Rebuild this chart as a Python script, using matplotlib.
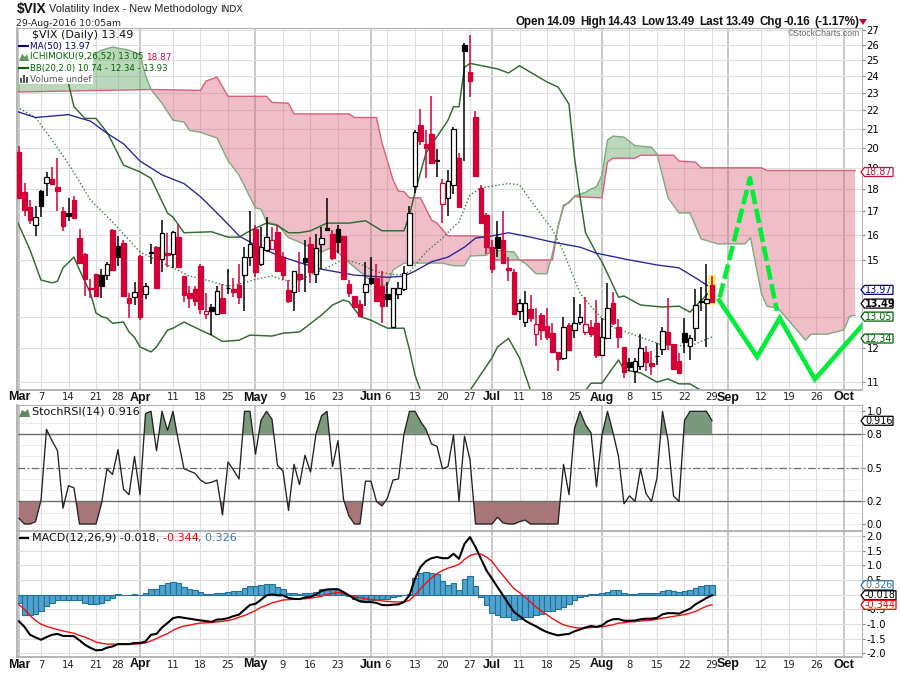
import numpy as np
import matplotlib
matplotlib.use("Agg")
import matplotlib.pyplot as plt
from matplotlib.patches import Polygon, Rectangle

plt.rcParams['text.parse_math'] = False
plt.rcParams['font.family'] = ['DejaVu Sans']

# ---------- price data (bar 0 = 1 Mar 2016, bar 126 = 29 Aug 2016) ----------
opens = [19.8,17.85,17.2,16.4,17.9,18.3,18.47,18.1,17.02,16.93,
17.5,15.87,15.25,14.0,14.48,14.45,14.45,16.22,15.55,15.7,
13.63,13.66,15.17,13.77,15.3,15.52,15.05,15.28,15.25,15.92,
14.42,13.8,13.95,14.8,13.08,13.32,13.08,13.63,13.97,13.95,
14.09,14.45,15.13,16.25,14.87,15.41,15.45,16.14,15.13,13.91,
13.84,14.48,15.1,15.65,14.48,15.65,16.3,16.04,16.27,15.97,
14.13,13.7,13.42,13.84,14.35,14.35,14.05,13.77,12.65,13.77,
13.95,14.83,18.15,21.2,20.2,20.72,19.33,17.33,17.6,18.2,
19.47,26.0,24.25,21.65,18.05,16.85,15.52,15.92,15.81,14.72,
14.57,13.19,12.82,13.25,12.43,13.05,12.69,12.46,11.88,11.7,
12.72,12.56,12.82,12.5,12.65,12.78,11.79,12.3,13.45,12.65,
12.03,11.58,11.32,11.47,11.88,11.55,11.75,11.97,12.5,12.12,
11.61,12.46,12.06,12.62,13.5,13.47,14.09]
closes = [17.6,17.05,16.65,16.75,17.25,18.57,18.25,17.9,16.38,16.8,
16.72,14.9,14.32,13.95,13.7,14.05,14.87,14.64,15.13,13.7,
13.45,13.84,12.98,14.05,15.33,13.98,16.1,15.2,16.15,14.75,
13.73,13.63,13.52,13.25,13.18,13.19,13.88,13.12,14.0,13.84,
13.66,15.13,15.65,14.57,15.52,15.92,15.81,14.6,14.45,13.52,
14.6,14.3,14.95,14.57,15.49,15.88,16.22,15.1,15.72,14.3,
13.8,13.32,13.02,14.13,14.15,13.52,13.35,13.6,13.98,14.0,
14.52,16.93,20.8,20.35,20.0,19.23,19.36,18.3,18.38,21.0,
17.2,25.6,23.7,18.6,16.5,15.52,14.67,15.49,14.92,14.64,
13.08,13.45,13.45,12.95,12.75,12.56,12.33,11.88,11.67,12.65,
11.94,12.78,13.0,12.75,12.43,11.79,12.33,13.3,12.78,12.33,
11.29,11.44,11.61,12.0,11.58,11.47,11.77,12.53,12.12,11.38,
11.26,12.18,12.3,13.39,13.53,13.6,13.49]
highs = [20.1,18.3,17.5,17.25,17.95,18.8,19.05,19.5,17.2,17.6,
17.68,16.25,15.28,14.3,14.48,14.67,14.95,16.25,15.97,15.81,
13.8,14.2,15.2,14.17,15.65,15.55,16.65,16.1,16.18,16.45,
14.42,14.05,14.05,14.87,13.8,13.42,14.05,14.13,14.67,14.35,
14.87,15.52,17.02,16.43,16.35,16.77,16.35,16.43,15.33,14.27,
14.6,15.33,15.81,15.92,16.04,16.35,17.6,16.22,16.4,15.97,
14.27,13.7,13.56,14.95,15.13,14.87,14.6,14.2,14.0,14.2,
14.8,17.25,20.92,22.05,20.92,22.8,19.95,18.47,18.9,21.08,
19.73,26.13,26.65,21.95,18.2,16.95,15.81,16.58,17.0,15.13,
14.67,13.6,13.88,13.73,13.3,13.12,13.3,12.78,11.88,13.0,
12.78,13.66,13.42,13.66,12.88,13.56,12.95,14.17,13.84,12.92,
12.03,11.7,11.7,12.43,12.06,11.9,12.15,12.65,13.62,12.12,
11.85,12.95,12.4,13.95,14.02,14.87,14.43]
lows = [17.6,16.8,16.45,15.95,16.75,17.7,18.25,17.02,16.18,16.6,
16.72,14.9,13.7,13.63,13.7,13.63,14.27,14.6,14.8,13.7,
12.95,13.39,12.9,13.6,14.87,13.95,14.57,14.75,14.72,14.72,
13.5,13.3,13.35,13.08,12.91,12.4,13.05,13.08,13.77,13.66,
13.42,13.19,14.8,14.37,14.8,15.33,15.41,14.6,14.27,13.45,
13.18,13.84,13.84,14.17,14.17,14.67,16.22,15.02,15.28,14.27,
13.66,13.3,12.98,13.35,14.09,13.52,12.78,13.32,12.62,13.6,
13.88,14.8,17.8,20.15,18.5,19.23,18.57,16.5,16.8,17.75,
17.2,19.35,22.75,18.6,16.5,15.25,14.52,15.13,14.92,14.23,
13.08,12.9,12.65,12.82,12.06,12.24,12.24,11.88,11.32,11.64,
11.9,12.3,12.72,12.4,12.35,11.7,11.76,12.3,12.72,12.0,
11.11,11.32,10.97,11.35,11.32,11.2,11.5,11.79,11.94,11.38,
11.23,11.85,11.64,12.2,13.18,12.03,13.49]

ma50_idx = [-1,3,9,13,16,19,22,26,30,33,36,39,40,43,47,51,55,61,67,70,72,75,78,81,83,86,89,93,97,102,105,111,116,120,123,126]
ma50_val = [22.0,21.6,21.76,21.4,20.75,20.2,19.33,18.66,18.25,17.65,16.93,16.22,15.97,15.6,15.2,14.92,14.67,14.45,14.37,14.41,14.6,14.95,15.13,15.52,15.88,15.97,16.1,15.92,15.72,15.52,15.28,15.02,14.83,14.72,14.35,13.97]

bb_up_idx = [9,10,12,14,16,17,19,22,24,27,28,30,35,38,40,42,45,47,49,51,53,56,60,63,66,70,71,72,74,78,79,80,81,82,87,89,91,96,98,100,101,102,103,105,106,109,110,113,117,120,122,126]
bb_up_val = [23.55,22.2,21.55,21.55,20.8,20.25,19.13,18.8,18.5,16.93,16.75,16.1,16.14,15.92,15.92,16.18,16.5,16.4,16.1,16.1,16.18,16.5,16.5,16.6,16.18,16.18,16.85,17.85,19.73,21.45,22.2,22.2,24.55,24.8,24.45,24.2,24.65,23.65,23.35,22.35,19.5,17.65,16.1,15.28,14.95,13.66,13.7,13.39,13.32,13.35,13.15,13.93]
bb_lo_idx = [-1,2,4,6,7,8,10,11,13,14,15,16,17,19,20,21,22,24,25,27,28,30,33,35,37,40,42,46,48,51,55,57,59,60,62,64,67,70,71,72,73,76,80,82,86,87,89,91,93,96,100,103,104,106,109,110,113,116,118,120,122,124,126]
bb_lo_val = [16.93,15.41,14.27,14.17,14.23,14.72,15.13,14.64,13.8,13.12,13.0,12.95,12.78,12.82,12.5,12.33,12.03,11.88,12.03,12.56,12.62,12.82,12.56,12.4,12.2,12.24,12.4,12.37,12.46,12.5,13.05,13.39,13.56,13.5,13.0,12.88,12.62,12.62,11.94,11.2,10.77,10.2,10.1,10.77,11.7,12.03,12.3,11.7,10.77,10.2,10.2,10.77,10.97,10.97,11.64,11.35,11.26,11.0,11.09,10.95,10.95,10.77,10.74]
bb_mid_idx = [-1,3,6,9,13,17,22,28,31,34,38,41,43,46,48,51,52,57,59,62,65,69,71,74,77,79,80,82,84,89,91,93,97,99,102,105,108,111,117,122,126]
bb_mid_val = [22.3,21.6,20.4,19.2,17.5,16.55,15.33,14.72,14.42,14.27,14.05,14.17,14.3,14.42,14.27,14.23,14.37,14.83,15.05,14.87,14.57,14.45,14.57,15.33,15.88,16.35,16.55,17.73,18.05,18.25,18.2,17.5,16.22,15.33,13.8,13.12,12.65,12.46,12.09,12.06,12.34]

span_b_idx = [-1,24,33,34,36,38,45,46,49,50,60,61,65,66,68,69,70,71,73,75,76,78,83,85,86,97,98,99,101,106,107,108,112,113,119,120,123,124,135,136,152]
span_b_val = [23.05,23.2,23.15,23.7,23.95,22.8,22.8,22.45,22.4,21.8,21.8,21.6,21.6,20.25,18.43,17.9,17.88,17.6,17.6,16.63,16.5,15.97,15.97,15.92,15.02,15.02,16.35,17.2,17.65,17.6,19.28,19.47,19.47,19.62,19.62,19.33,19.28,19.0,19.0,18.87,18.87]
span_a_idx = [-1,12,15,17,20,22,23,24,26,28,30,31,33,36,38,40,43,44,45,47,49,51,53,55,57,59,62,65,67,68,70,77,79,81,82,85,86,90,91,92,94,96,97,98,99,100,101,103,104,105,106,107,108,110,112,115,116,118,120,122,124,127,132,133,135,136,138,141,143,144,147,150,151,152]
span_a_val = [24.4,25.0,25.65,25.85,25.65,25.35,24.05,23.2,22.4,21.45,21.35,20.9,20.8,20.5,19.35,18.65,17.15,17.1,16.55,16.43,15.9,15.72,15.5,15.33,15.52,15.1,14.57,14.09,14.09,14.64,14.9,14.9,14.8,14.8,15.17,15.2,15.4,15.33,15.02,14.9,14.5,14.5,15.28,16.35,17.28,17.37,17.68,17.85,18.0,18.1,18.66,20.4,20.6,20.55,20.1,20.03,19.68,17.6,16.93,16.93,15.85,15.65,15.65,15.9,13.78,13.35,13.28,12.65,12.24,12.43,12.43,12.57,13.0,13.05]

solid_idx = [127.3,134.2,138.3,144.7,153.5]
solid_val = [13.55,11.73,12.95,11.08,12.75]
dash_idx = [127.4,132.9,137.8]
dash_val = [13.65,18.5,13.19]

stoch = [.05,0,0,.02,.21,.84,.74,.65,.14,.34,.32,0,0,0,0,.18,.49,.44,.66,.31,.26,.6,.26,.98,1,.65,1,.83,1,.73,
.49,.47,.45,.39,.36,.37,.39,.08,.55,.48,.4,1,1,.62,.92,1,.93,.52,.47,.12,.53,.35,.61,.46,.8,.96,1,.51,.74,.22,
.07,0,0,.38,.38,.2,.16,.23,.39,.4,.8,1,1,.91,.84,.71,.69,.49,.51,.79,.2,.78,.57,0,0,0,0,.06,.01,0,0,.02,.035,0,
0,0,0,0,0,.53,.26,.85,1,.88,.81,.33,.79,1,.81,.6,.18,.25,.2,.49,.27,.2,.41,1,.74,.25,.2,.92,1,1,1,1,.916]

macd = [-.91,-1.1,-1.37,-1.46,-1.54,-1.45,-1.37,-1.34,-1.41,-1.41,-1.42,-1.56,-1.71,-1.82,-1.9,-1.89,-1.81,-1.77,-1.69,-1.69,-1.69,-1.65,-1.65,-1.6,-1.37,-1.34,-1.12,-.97,-.8,-.76,
-.79,-.82,-.85,-.88,-.9,-.93,-.85,-.84,-.8,-.73,-.68,-.51,-.35,-.31,-.17,-.02,.01,-.02,-.02,-.11,-.14,-.15,-.09,-.08,.01,.13,.18,.19,.19,.09,
-.02,-.14,-.23,-.25,-.25,-.28,-.35,-.36,-.34,-.33,-.25,-.02,.55,.95,1.15,1.25,1.29,1.25,1.25,1.4,1.23,1.74,1.97,1.63,1.23,.83,.55,.26,-.02,-.31,
-.59,-.73,-.88,-.99,-1.08,-1.19,-1.28,-1.34,-1.39,-1.36,-1.34,-1.25,-1.19,-1.12,-1.07,-1.1,-1.05,-.91,-.84,-.83,-.89,-.89,-.88,-.84,-.82,-.82,-.79,-.67,-.63,-.63,-.65,-.56,-.48,-.33,-.22,-.11,-.018]
signal = [-.34,-.5,-.71,-.88,-1.01,-1.08,-1.14,-1.19,-1.24,-1.28,-1.32,-1.39,-1.45,-1.53,-1.62,-1.66,-1.69,-1.69,-1.69,-1.69,-1.69,-1.69,-1.68,-1.65,-1.58,-1.5,-1.41,-1.33,-1.22,-1.13,
-1.07,-1.04,-1.0,-.97,-.96,-.95,-.93,-.91,-.88,-.84,-.77,-.71,-.63,-.54,-.43,-.36,-.28,-.23,-.18,-.17,-.15,-.14,-.14,-.11,-.09,-.05,.01,.05,.07,.05,
-.02,-.07,-.1,-.14,-.16,-.18,-.21,-.23,-.24,-.25,-.24,-.19,-.02,.21,.4,.58,.72,.83,.91,.97,1.04,1.21,1.34,1.4,1.39,1.29,1.14,.89,.66,.43,
.21,.07,-.08,-.25,-.42,-.56,-.68,-.82,-.93,-1.03,-1.08,-1.12,-1.14,-1.14,-1.12,-1.1,-1.1,-1.06,-1.03,-.97,-.96,-.93,-.92,-.9,-.88,-.87,-.84,-.8,-.77,-.74,-.71,-.68,-.63,-.57,-.48,-.39,-.344]
hist = [-.27,-.68,-.68,-.67,-.54,-.39,-.27,-.19,-.19,-.19,-.17,-.19,-.28,-.33,-.33,-.28,-.19,-.1,.02,-.02,-.01,.01,-.02,.06,.2,.2,.34,.4,.44,.41,
.26,.2,.15,.11,.03,.02,.06,.06,.1,.14,.14,.24,.31,.31,.34,.38,.38,.28,.21,.06,.06,.03,.05,.07,.09,.18,.19,.18,.16,.03,
-.05,-.14,-.18,-.2,-.17,-.17,-.16,-.14,-.09,-.05,-.01,.02,.57,.73,.79,.74,.7,.47,.34,.41,.16,.55,.64,.3,-.08,-.36,-.63,-.71,-.76,-.76,
-.87,-.82,-.76,-.76,-.71,-.65,-.57,-.54,-.5,-.42,-.31,-.19,-.09,-.05,.01,.01,.06,.11,.16,.16,.06,.02,.01,.05,.06,.06,.07,.13,.16,.14,.1,.14,.16,.24,.31,.33,.326]

# ---------- axis labelling ----------
tick_idx = [0,4,9,14,18,22,28,33,38,43,48,53,58,64,67,72,77,82,86,91,96,101,106,111,116,121,126,129,135,140,145,150]
tick_lab = ['Mar','7','14','21','28','Apr','11','18','25','May','9','16','23','Jun','6','13','20','27','Jul','11','18','25','Aug','8','15','22','29','Sep','12','19','26','Oct']
month_lab = {'Mar','Apr','May','Jun','Jul','Aug','Sep','Oct'}
price_ticks = list(range(11, 28))
price_hidden = {13, 14}          # covered by the value tags in the reference
stoch_ticks = [0.0, 0.2, 0.5, 0.8, 1.0]
macd_ticks = [-2, -1.5, -1, -.5, 0, .5, 1, 1.5, 2]
main_tags = [(18.87, '18.87', '#c8103c', False), (13.97, '13.97', '#000080', False), (13.49, '13.49', '#000000', True), (13.05, '13.05', '#006400', False), (12.34, '12.34', '#006400', False)]
stoch_tags = [(0.916, '0.916', '#000000', False)]
macd_tags = [(0.326, '0.326', '#3a78a8', False), (-0.018, '-0.018', '#000000', False), (-0.344, '-0.344', '#ee0000', False)]

W, H = 900, 673
fig = plt.figure(figsize=(W / 100, H / 100), dpi=100, facecolor='white')

def axes_px(l, t, r, b):
    return fig.add_axes([l / W, 1 - b / H, (r - l) / W, (b - t) / H])

L, R = 17, 862
xlim = ((L - 19) / 5.5, (R - 19) / 5.5)
GRID = '#dedede'; MONTH = '#b8b8b8'; SPINE = '#b4b4b4'

ax = axes_px(L, 28, R, 390)
ax2 = axes_px(L, 405, R, 531)
ax3 = axes_px(L, 531, R, 657)

for a in (ax, ax2, ax3):
    a.set_xlim(*xlim)
    a.set_xticks(tick_idx)
    a.set_xticklabels([])
    a.tick_params(axis='x', length=0)
    a.tick_params(axis='y', length=2, color='#808080', right=True, left=False,
                  labelright=True, labelleft=False, labelsize=7.2, pad=1.2)
    a.set_axisbelow(True)
    for s in a.spines.values():
        s.set_color(SPINE); s.set_linewidth(0.8)
    a.spines['left'].set_linewidth(1.4)
    a.spines['bottom'].set_linewidth(1.4)
    for i, lab in zip(tick_idx, tick_lab):
        a.axvline(i, color=MONTH if lab in month_lab else GRID,
                  lw=1.1 if lab in month_lab else 0.8, zorder=0.5)

# ---------- main panel ----------
ax.set_yscale('log')
ax.set_ylim(10.78, 27.14)
ax.set_yticks(price_ticks)
ax.set_yticklabels(['' if p in price_hidden else str(p) for p in price_ticks])
ax.minorticks_off()
ax.tick_params(axis='x', which='both', length=0)
ax.yaxis.grid(True, color=GRID, lw=0.8)

grid_x = np.union1d(span_a_idx, span_b_idx)
grid_x = np.unique(np.concatenate([grid_x, np.arange(-1, 152.01, 0.25)]))
sa = np.interp(grid_x, span_a_idx, span_a_val)
sb = np.interp(grid_x, span_b_idx, span_b_val)
ax.fill_between(grid_x, sa, sb, where=sb >= sa, color='#d8566f', alpha=0.38, lw=0, zorder=1, interpolate=True)
ax.fill_between(grid_x, sa, sb, where=sa >= sb, color='#6fae6f', alpha=0.48, lw=0, zorder=1, interpolate=True)
ax.plot(span_b_idx, span_b_val, color='#d8607a', lw=1.0, zorder=1.5)
ax.plot(span_a_idx, span_a_val, color='#7fa87f', lw=1.0, zorder=1.5)

ax.plot(bb_up_idx, bb_up_val, color='#2e6b2e', lw=1.05, zorder=2)
ax.plot(bb_lo_idx, bb_lo_val, color='#2e6b2e', lw=1.05, zorder=2)
ax.plot(bb_mid_idx, bb_mid_val, color='#3d7d3d', lw=1.0, ls=(0, (1, 1.6)), zorder=2)
ax.plot(ma50_idx, ma50_val, color='#22229a', lw=0.95, zorder=2)

RED = '#d40036'
n = len(closes)
ax.bar([n - 1], [highs[-1] - lows[-1] + 0.12], bottom=[lows[-1] - 0.1], width=1.3, color='#fff07a', lw=0, zorder=2.4)
for i in range(n):
    o, h, l, c = opens[i], highs[i], lows[i], closes[i]
    up = i > 0 and c >= closes[i - 1]
    col = '#000000' if up else RED
    ax.vlines(i, l, h, color=col, lw=1.1, zorder=3)
    lo, hi = min(o, c), max(o, c)
    ax.bar([i], [hi - lo], bottom=[lo], width=0.85, facecolor='white' if c >= o else col,
           edgecolor=col, lw=0.9, zorder=3.2)

ax.plot(solid_idx, solid_val, color='#00ee38', lw=3.3, zorder=5, solid_joinstyle='miter')
ax.plot(dash_idx, dash_val, color='#00ee38', lw=3.3, ls=(0, (3.2, 1.0)), zorder=5)

# ---------- StochRSI ----------
st = np.array(stoch)
xs = np.arange(n)
ax2.set_ylim(-0.062, 1.056)
ax2.set_yticks(stoch_ticks)
ax2.set_yticklabels(['0.0', '0.2', '0.5', '0.8', '1.0'])
for v in np.arange(0, 1.01, 0.1):
    ax2.axhline(v, color='#eeeeee', lw=0.7, zorder=0.4)
ax2.fill_between(xs, st, 0.8, where=st >= 0.8, interpolate=True, color='#7b9a7b', lw=0, zorder=1)
ax2.fill_between(xs, st, 0.2, where=st <= 0.2, interpolate=True, color='#a87676', lw=0, zorder=1)
ax2.axhline(0.8, color='#707070', lw=1.0, zorder=1.5)
ax2.axhline(0.2, color='#707070', lw=1.0, zorder=1.5)
ax2.axhline(0.5, color='#707070', lw=0.9, ls=(0, (6, 2, 1.5, 2)), zorder=1.5)
ax2.plot(xs, st, color='#222222', lw=0.95, zorder=2)

# ---------- MACD ----------
ax3.set_ylim(-2.13, 2.18)
ax3.set_yticks(macd_ticks)
ax3.set_yticklabels(['-2.0', '-1.5', '-1.0', '-0.5', '', '0.5', '1.0', '1.5', '2.0'])
ax3.yaxis.grid(True, color=GRID, lw=0.8)
ax3.bar(xs, hist, width=0.92, color='#4fa2cc', edgecolor='#22719c', lw=0.8, zorder=2)
ax3.plot(xs, signal, color='#ee1111', lw=1.0, zorder=3)
ax3.plot(xs, macd, color='#000000', lw=1.5, zorder=4)

for a, ypx in ((ax, 397.5), (ax3, 664.5)):
    for i, lab in zip(tick_idx, tick_lab):
        xp = (i - xlim[0]) / (xlim[1] - xlim[0]) * (R - L) + L
        if lab in month_lab:
            fig.text(xp / W, 1 - ypx / H, lab, ha='center', va='center', fontsize=9,
                     fontweight='bold', family='Liberation Sans', color='#111111')
        else:
            fig.text(xp / W, 1 - ypx / H, lab, ha='center', va='center', fontsize=7.2, color='#222222')

# ---------- overlay in pixel space: header, legends, value tags ----------
ov = fig.add_axes([0, 0, 1, 1], zorder=20)
ov.set_xlim(0, W); ov.set_ylim(H, 0); ov.axis('off'); ov.patch.set_alpha(0)
rend = fig.canvas.get_renderer()

def runs(x, y, parts, **kw):
    kw.setdefault('fontsize', 6.4)
    for txt, col in parts:
        t = ov.text(x, y, txt, color=col, va='center', ha='left', **kw)
        x = ov.transData.inverted().transform(t.get_window_extent(rend).get_points())[1, 0]
    return x

ov.text(16.5, 9.5, '$VIX', fontsize=9.8, fontweight='bold', family='Liberation Sans', va='center', color='#111111')
ov.text(49, 9.5, 'Volatility Index - New Methodology', fontsize=7.9, va='center', color='#222222', family='Liberation Sans')
ov.text(220, 9.5, 'INDX', fontsize=6.6, va='center', color='#222222')
ov.text(16, 23, '29-Aug-2016 10:05am', fontsize=6.75, va='center', color='#222222')

hdr = [('Open', 515), ('14.09', 546), ('High', 580), ('14.43', 607), ('Low', 641), ('13.49', 665), ('Last', 699), ('13.49', 725), ('Chg', 760), ('-0.16', 784), ('(-1.17%)', 814)]
for s, x in hdr:
    ov.text(x, 22, s, fontsize=8.4, fontweight='bold', family='Liberation Sans', va='center', color='#111111')
ov.add_patch(Polygon([[859, 19], [867, 19], [863, 25]], color='#d40036', lw=0))
ov.text(860, 33.5, '©StockCharts.com', fontsize=6.2, ha='right', va='center', color='#666666', family='Liberation Sans')

ov.add_patch(Rectangle((18.5, 29), 74, 55, color='white', lw=0))
runs(32, 35, [('$VIX (Daily) 13.49', '#111111')], fontsize=8)
ov.plot([19, 28], [46, 46], color='#000080', lw=1.5)
runs(30, 46, [('MA(50) 13.97', '#000080')])
ov.add_patch(Polygon([[19, 61], [22, 54], [25, 57], [27, 54], [29, 61]], color='#5f9a5f', lw=0))
runs(30, 57, [('ICHIMOKU(9,26,52) 13.05 ', '#006400'), ('18.87', '#c8103c')])
ov.plot([19, 28], [68, 68], color='#006400', lw=1.5)
runs(30, 68, [('BB(20,2.0) 10.74 - 12.34 - 13.93', '#006400')], fontsize=6.15)
for xb, top in ((20, 78), (23, 75), (26, 77)):
    ov.add_patch(Rectangle((xb, top), 2, 83 - top, color='#555555', lw=0))
runs(30, 79, [('Volume undef', '#555555')])

ov.add_patch(Polygon([[19, 417], [22, 410], [25, 412], [28, 409], [30, 417]], color='#5f8a5f', lw=0))
runs(32, 411.5, [('StochRSI(14) 0.916', '#111111')], fontsize=8)
ov.plot([20, 28], [538, 538], color='#000000', lw=1.6)
runs(32, 538, [('MACD(12,26,9) -0.018', '#111111'), (', -0.344', '#ee0000'), (', 0.326', '#3a78a8')], fontsize=8)

def tag(a, val, txt, col, bold, dy=1.5):
    y = H - a.transData.transform((0, val))[1] + dy
    w = 35 if txt.startswith('-') else 32
    ov.add_patch(Polygon([[861, y], [864.5, y - 4.5], [861 + w, y - 4.5], [861 + w, y + 4.5], [864.5, y + 4.5]],
                         facecolor='white', edgecolor=col, lw=0.9, zorder=5))
    ov.text(865, y, txt, fontsize=6.9, va='center', color=col, zorder=6, fontweight='bold' if bold else 'normal')

for v, t, c, b in main_tags:
    tag(ax, v, t, c, b)
for v, t, c, b in stoch_tags:
    tag(ax2, v, t, c, b, 0)
for v, t, c, b in macd_tags:
    tag(ax3, v, t, c, b, 0)

fig.savefig('out.png', dpi=100, facecolor='white')
